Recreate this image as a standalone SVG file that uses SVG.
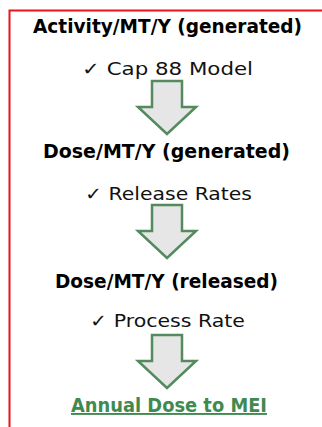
<svg xmlns="http://www.w3.org/2000/svg" width="322" height="427" viewBox="0 0 322 427">
<style>
.h{font-family:"DejaVu Sans","Liberation Sans",sans-serif;font-weight:bold;font-size:20px;fill:#000;text-anchor:middle}
.s{font-family:"DejaVu Sans","Liberation Sans",sans-serif;font-size:18px;fill:#111;text-anchor:middle}
.g{font-family:"DejaVu Sans","Liberation Sans",sans-serif;font-weight:bold;font-size:19px;fill:#3f8a4f;text-anchor:middle;text-decoration:underline}
.arr{fill:#e6e6e6;stroke:#548b5e;stroke-width:2.5;stroke-linejoin:miter}
</style>
<defs>
<path id="down" class="arr" d="M-15,0 H15 V26 H29 L0,53 L-29,26 H-15 Z"/>
</defs>
<rect width="322" height="427" fill="#fff"/>
<path d="M9.5,427 V10.5 H322" fill="none" stroke="#e8141b" stroke-width="2"/>
<g id="n1"><text class="h" x="167.5" y="33" textLength="269" lengthAdjust="spacingAndGlyphs">Activity/MT/Y (generated)</text></g>
<g id="l1"><text class="s" x="167.5" y="75" textLength="171" lengthAdjust="spacingAndGlyphs">✓ Cap 88 Model</text></g>
<g id="n2"><text class="h" x="166.5" y="158" textLength="247" lengthAdjust="spacingAndGlyphs">Dose/MT/Y (generated)</text></g>
<g id="l2"><text class="s" x="168.5" y="200" textLength="167" lengthAdjust="spacingAndGlyphs">✓ Release Rates</text></g>
<g id="n3"><text class="h" x="166.5" y="288" textLength="223" lengthAdjust="spacingAndGlyphs">Dose/MT/Y (released)</text></g>
<g id="l3"><text class="s" x="167.5" y="327" textLength="155" lengthAdjust="spacingAndGlyphs">✓ Process Rate</text></g>
<g id="n4"><text class="g" x="169" y="412" textLength="196" lengthAdjust="spacingAndGlyphs">Annual Dose to MEI</text></g>
<g id="connectors">
<use href="#down" x="167" y="81"/>
<use href="#down" x="167" y="205"/>
<use href="#down" x="167" y="335"/>
</g>
</svg>
